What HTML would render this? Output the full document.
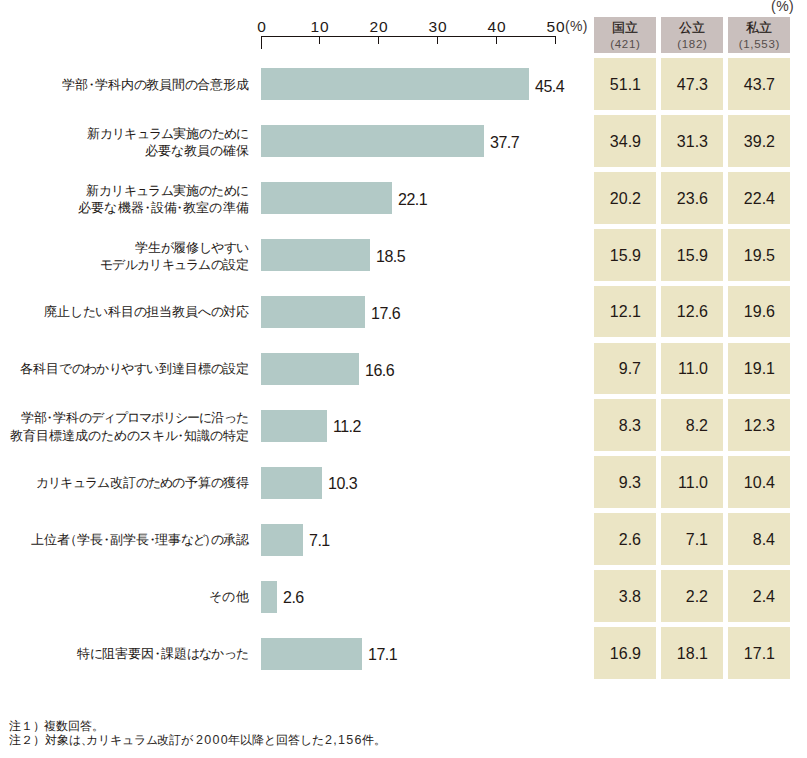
<!DOCTYPE html>
<html><head><meta charset="utf-8"><style>
html,body{margin:0;padding:0;background:#fff;}
body{width:807px;height:758px;position:relative;overflow:hidden;font-family:"Liberation Sans",sans-serif;color:#231815;}
.a{position:absolute;white-space:nowrap;}
.ax{position:absolute;background:#1a1311;}
.tl{position:absolute;top:17.8px;font-size:15.5px;line-height:17px;width:40px;text-align:center;letter-spacing:0.8px;text-indent:0.8px;}
.bar{position:absolute;left:261px;height:32px;background:#b2c9c6;}
.bv{position:absolute;font-size:16px;line-height:34px;height:32px;letter-spacing:-0.5px;white-space:nowrap;}
.ln{position:absolute;right:558px;font-size:13px;line-height:17px;white-space:nowrap;}
.d{display:inline-block;width:6.5px;text-indent:-3.25px;}
.pl{display:inline-block;width:7px;text-indent:-6px;}
.pr{display:inline-block;width:7px;}
.hc{position:absolute;top:17px;width:62px;height:36px;background:#c9bfbd;text-align:center;}
.hc .n{position:absolute;left:0;right:0;top:3px;font-size:13px;line-height:16px;-webkit-text-stroke:0.2px #231815;}
.hc .c{position:absolute;left:0;right:0;top:21px;font-size:11.5px;line-height:13px;color:#554d4b;letter-spacing:0.7px;text-indent:0.7px;}
.cell{position:absolute;width:62px;background:#ebe5c5;}
.cell span{position:absolute;right:15px;top:1px;bottom:0;display:flex;align-items:center;font-size:16px;}
.fn{position:absolute;font-size:12px;line-height:14px;white-space:nowrap;}
.fd{position:absolute;font-size:12.5px;line-height:14px;white-space:nowrap;letter-spacing:1.3px;color:#2e2a29;}
</style></head><body>

<div class="ax" style="left:261px;top:36px;width:295px;height:1px"></div>
<div class="ax" style="left:261px;top:36px;width:1px;height:13px"></div>
<div class="tl" style="left:241.5px">0</div>
<div class="ax" style="left:319px;top:36px;width:1px;height:8px"></div>
<div class="tl" style="left:299.5px">10</div>
<div class="ax" style="left:378px;top:36px;width:1px;height:8px"></div>
<div class="tl" style="left:358.5px">20</div>
<div class="ax" style="left:437px;top:36px;width:1px;height:8px"></div>
<div class="tl" style="left:417.5px">30</div>
<div class="ax" style="left:496px;top:36px;width:1px;height:8px"></div>
<div class="tl" style="left:476.5px">40</div>
<div class="ax" style="left:555px;top:36px;width:1px;height:8px"></div>
<div class="tl" style="left:535.5px">50</div>
<div class="a" style="left:565px;top:18px;font-size:14px;line-height:16px;color:#3d3634;letter-spacing:0.3px">(%)</div>
<div class="a" style="left:771px;top:-2px;font-size:14px;line-height:16px;color:#3d3634;letter-spacing:0.5px">(%)</div>
<div class="hc" style="left:594px"><div class="n">国立</div><div class="c">(421)</div></div>
<div class="hc" style="left:661px"><div class="n">公立</div><div class="c">(182)</div></div>
<div class="hc" style="left:728px"><div class="n">私立</div><div class="c">(1,553)</div></div>
<div class="ln" style="top:75.5px">学部<span class="d">・</span>学科内<span style="letter-spacing:-0.80px">の</span>教員間<span style="letter-spacing:-0.80px">の</span>合意形成</div>
<div class="bar" style="top:68px;width:268.0px"></div>
<div class="bv" style="top:69.5px;left:535.0px">45.4</div>
<div class="cell" style="left:594px;top:58px;height:52px"><span>51.1</span></div>
<div class="cell" style="left:661px;top:58px;height:52px"><span>47.3</span></div>
<div class="cell" style="left:728px;top:58px;height:52px"><span>43.7</span></div>
<div class="ln" style="top:124.8px">新<span style="letter-spacing:-0.76px">カ</span><span style="letter-spacing:-0.76px">リ</span><span style="letter-spacing:-0.76px">キ</span><span style="letter-spacing:-0.76px">ュ</span><span style="letter-spacing:-0.76px">ラ</span><span style="letter-spacing:-0.76px">ム</span>実施<span style="letter-spacing:-0.76px">の</span><span style="letter-spacing:-0.76px">た</span><span style="letter-spacing:-0.76px">め</span>に</div>
<div class="ln" style="top:142.1px">必要<span style="letter-spacing:0.10px">な</span>教員<span style="letter-spacing:0.10px">の</span>確保</div>
<div class="bar" style="top:125px;width:223.0px"></div>
<div class="bv" style="top:126.3px;left:490.0px">37.7</div>
<div class="cell" style="left:594px;top:115px;height:52px"><span>34.9</span></div>
<div class="cell" style="left:661px;top:115px;height:52px"><span>31.3</span></div>
<div class="cell" style="left:728px;top:115px;height:52px"><span>39.2</span></div>
<div class="ln" style="top:181.7px">新<span style="letter-spacing:-0.66px">カ</span><span style="letter-spacing:-0.66px">リ</span><span style="letter-spacing:-0.66px">キ</span><span style="letter-spacing:-0.66px">ュ</span><span style="letter-spacing:-0.66px">ラ</span><span style="letter-spacing:-0.66px">ム</span>実施<span style="letter-spacing:-0.66px">の</span><span style="letter-spacing:-0.66px">た</span><span style="letter-spacing:-0.66px">め</span>に</div>
<div class="ln" style="top:199.0px">必要<span style="letter-spacing:0.80px">な</span>機器<span class="d">・</span>設備<span class="d">・</span>教室<span style="letter-spacing:0.80px">の</span>準備</div>
<div class="bar" style="top:182px;width:131.0px"></div>
<div class="bv" style="top:183.1px;left:398.0px">22.1</div>
<div class="cell" style="left:594px;top:172px;height:52px"><span>20.2</span></div>
<div class="cell" style="left:661px;top:172px;height:52px"><span>23.6</span></div>
<div class="cell" style="left:728px;top:172px;height:52px"><span>22.4</span></div>
<div class="ln" style="top:238.5px">学生<span style="letter-spacing:-0.64px">が</span>履修<span style="letter-spacing:-0.64px">し</span><span style="letter-spacing:-0.64px">や</span><span style="letter-spacing:-0.64px">す</span>い</div>
<div class="ln" style="top:255.8px"><span style="letter-spacing:-0.72px">モ</span><span style="letter-spacing:-0.72px">デ</span><span style="letter-spacing:-0.72px">ル</span><span style="letter-spacing:-0.72px">カ</span><span style="letter-spacing:-0.72px">リ</span><span style="letter-spacing:-0.72px">キ</span><span style="letter-spacing:-0.72px">ュ</span><span style="letter-spacing:-0.72px">ラ</span><span style="letter-spacing:-0.72px">ム</span><span style="letter-spacing:-0.72px">の</span>設定</div>
<div class="bar" style="top:239px;width:109.0px"></div>
<div class="bv" style="top:239.9px;left:376.0px">18.5</div>
<div class="cell" style="left:594px;top:229px;height:52px"><span>15.9</span></div>
<div class="cell" style="left:661px;top:229px;height:52px"><span>15.9</span></div>
<div class="cell" style="left:728px;top:229px;height:52px"><span>19.5</span></div>
<div class="ln" style="top:303.1px">廃止<span style="letter-spacing:-0.53px">し</span><span style="letter-spacing:-0.53px">た</span><span style="letter-spacing:-0.53px">い</span>科目<span style="letter-spacing:-0.53px">の</span>担当教員<span style="letter-spacing:-0.53px">へ</span><span style="letter-spacing:-0.53px">の</span>対応</div>
<div class="bar" style="top:296px;width:104.0px"></div>
<div class="bv" style="top:296.7px;left:371.0px">17.6</div>
<div class="cell" style="left:594px;top:286px;height:51px"><span>12.1</span></div>
<div class="cell" style="left:661px;top:286px;height:51px"><span>12.6</span></div>
<div class="cell" style="left:728px;top:286px;height:51px"><span>19.6</span></div>
<div class="ln" style="top:360.0px">各科目<span style="letter-spacing:-0.58px">で</span><span style="letter-spacing:-0.58px">の</span><span style="letter-spacing:-0.58px">わ</span><span style="letter-spacing:-0.58px">か</span><span style="letter-spacing:-0.58px">り</span><span style="letter-spacing:-0.58px">や</span><span style="letter-spacing:-0.58px">す</span><span style="letter-spacing:-0.58px">い</span>到達目標<span style="letter-spacing:-0.58px">の</span>設定</div>
<div class="bar" style="top:353px;width:98.0px"></div>
<div class="bv" style="top:353.5px;left:365.0px">16.6</div>
<div class="cell" style="left:594px;top:343px;height:51px"><span>9.7</span></div>
<div class="cell" style="left:661px;top:343px;height:51px"><span>11.0</span></div>
<div class="cell" style="left:728px;top:343px;height:51px"><span>19.1</span></div>
<div class="ln" style="top:409.2px">学部<span class="d">・</span>学科<span style="letter-spacing:-1.00px">の</span><span style="letter-spacing:-1.00px">デ</span><span style="letter-spacing:-1.00px">ィ</span><span style="letter-spacing:-1.00px">プ</span><span style="letter-spacing:-1.00px">ロ</span><span style="letter-spacing:-1.00px">マ</span><span style="letter-spacing:-1.00px">ポ</span><span style="letter-spacing:-1.00px">リ</span><span style="letter-spacing:-1.00px">シ</span><span style="letter-spacing:-1.00px">ー</span><span style="letter-spacing:-1.00px">に</span>沿<span style="letter-spacing:-1.00px">っ</span>た</div>
<div class="ln" style="top:426.6px">教育目標達成<span style="letter-spacing:-0.22px">の</span><span style="letter-spacing:-0.22px">た</span><span style="letter-spacing:-0.22px">め</span><span style="letter-spacing:-0.22px">の</span><span style="letter-spacing:-0.22px">ス</span><span style="letter-spacing:-0.22px">キ</span><span style="letter-spacing:-0.22px">ル</span><span class="d">・</span>知識<span style="letter-spacing:-0.22px">の</span>特定</div>
<div class="bar" style="top:410px;width:66.0px"></div>
<div class="bv" style="top:410.3px;left:333.0px">11.2</div>
<div class="cell" style="left:594px;top:399px;height:52px"><span>8.3</span></div>
<div class="cell" style="left:661px;top:399px;height:52px"><span>8.2</span></div>
<div class="cell" style="left:728px;top:399px;height:52px"><span>12.3</span></div>
<div class="ln" style="top:473.8px"><span style="letter-spacing:-0.71px">カ</span><span style="letter-spacing:-0.71px">リ</span><span style="letter-spacing:-0.71px">キ</span><span style="letter-spacing:-0.71px">ュ</span><span style="letter-spacing:-0.71px">ラ</span><span style="letter-spacing:-0.71px">ム</span>改訂<span style="letter-spacing:-0.71px">の</span><span style="letter-spacing:-0.71px">た</span><span style="letter-spacing:-0.71px">め</span><span style="letter-spacing:-0.71px">の</span>予算<span style="letter-spacing:-0.71px">の</span>獲得</div>
<div class="bar" style="top:467px;width:61.0px"></div>
<div class="bv" style="top:467.1px;left:328.0px">10.3</div>
<div class="cell" style="left:594px;top:456px;height:52px"><span>9.3</span></div>
<div class="cell" style="left:661px;top:456px;height:52px"><span>11.0</span></div>
<div class="cell" style="left:728px;top:456px;height:52px"><span>10.4</span></div>
<div class="ln" style="top:530.7px">上位者<span class="pl">（</span>学長<span class="d">・</span>副学長<span class="d">・</span>理事<span style="letter-spacing:-1.47px">な</span><span style="letter-spacing:-1.47px">ど</span><span class="pr">）</span><span style="letter-spacing:-1.47px">の</span>承認</div>
<div class="bar" style="top:524px;width:42.0px"></div>
<div class="bv" style="top:523.9px;left:309.0px">7.1</div>
<div class="cell" style="left:594px;top:513px;height:52px"><span>2.6</span></div>
<div class="cell" style="left:661px;top:513px;height:52px"><span>7.1</span></div>
<div class="cell" style="left:728px;top:513px;height:52px"><span>8.4</span></div>
<div class="ln" style="top:587.6px"><span style="letter-spacing:0.60px">そ</span><span style="letter-spacing:0.60px">の</span>他</div>
<div class="bar" style="top:581px;width:16.0px"></div>
<div class="bv" style="top:580.7px;left:283.0px">2.6</div>
<div class="cell" style="left:594px;top:570px;height:52px"><span>3.8</span></div>
<div class="cell" style="left:661px;top:570px;height:52px"><span>2.2</span></div>
<div class="cell" style="left:728px;top:570px;height:52px"><span>2.4</span></div>
<div class="ln" style="top:644.5px">特<span style="letter-spacing:-0.66px">に</span>阻害要因<span class="d">・</span>課題<span style="letter-spacing:-0.66px">は</span><span style="letter-spacing:-0.66px">な</span><span style="letter-spacing:-0.66px">か</span><span style="letter-spacing:-0.66px">っ</span>た</div>
<div class="bar" style="top:638px;width:101.0px"></div>
<div class="bv" style="top:637.5px;left:368.0px">17.1</div>
<div class="cell" style="left:594px;top:627px;height:52px"><span>16.9</span></div>
<div class="cell" style="left:661px;top:627px;height:52px"><span>18.1</span></div>
<div class="cell" style="left:728px;top:627px;height:52px"><span>17.1</span></div>
<div class="fn" style="left:8.5px;top:719.2px">注１）</div>
<div class="fn" style="left:43.5px;top:719.2px">複数回答。</div>
<div class="fn" style="left:8.5px;top:733px">注２）</div>
<div class="fn" style="left:44.5px;top:733px">対象は<span class="d" style="width:7px;text-indent:0">、</span></div>
<div class="fn" style="left:86px;top:733px;letter-spacing:-0.1px">カリキュラム改訂が</div>
<div class="fd" style="left:196px;top:733px">2000</div>
<div class="fn" style="left:227.5px;top:733px">年以降と回答した</div>
<div class="fd" style="left:325px;top:733px">2,156</div>
<div class="fn" style="left:362px;top:733px">件。</div>
</body></html>
